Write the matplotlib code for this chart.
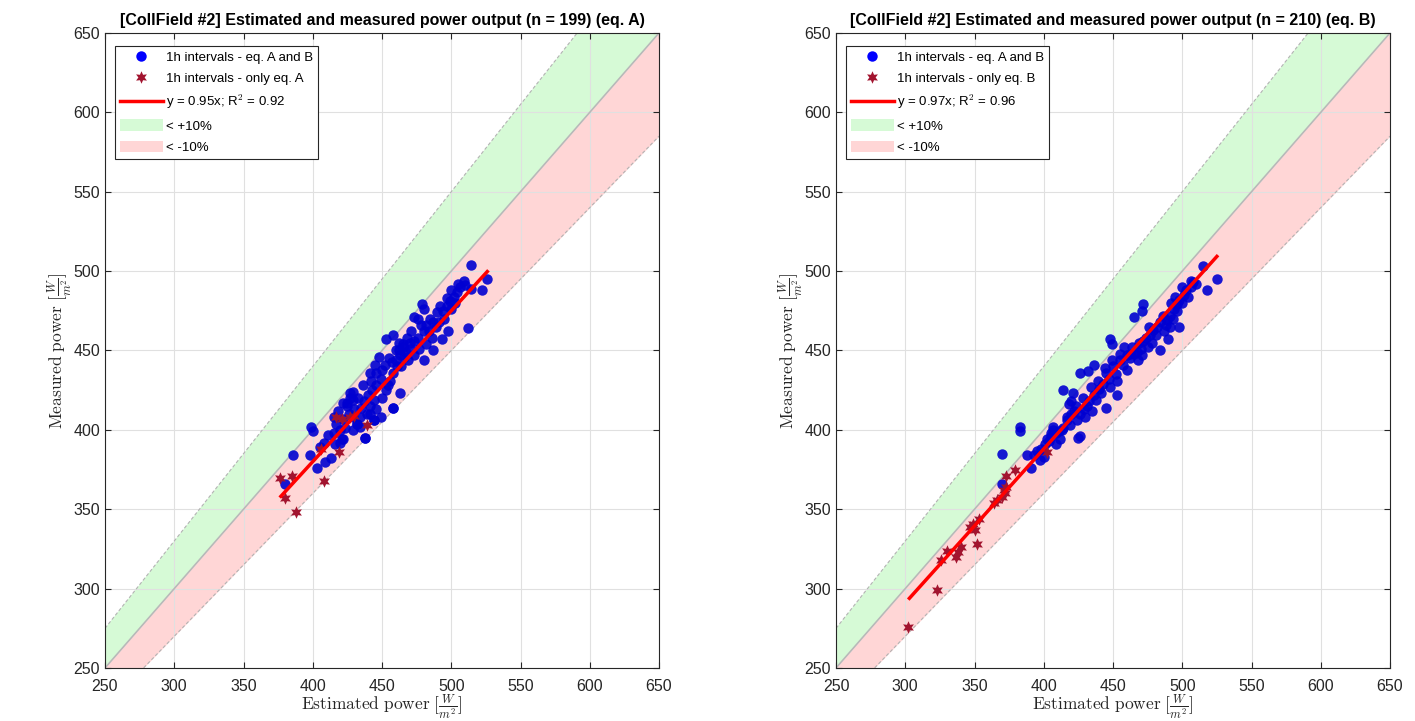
import numpy as np
import matplotlib
matplotlib.use('Agg')
import matplotlib.pyplot as plt
from matplotlib.patches import Patch
from matplotlib.lines import Line2D

plt.rcParams['font.family'] = ['Liberation Sans', 'DejaVu Sans']
plt.rcParams['mathtext.fontset'] = 'cm'

# --- data ---
# left panel, eq. A: blue = valid for eq. A and B, stars = only eq. A
est_A_both = [514, 526, 522, 512, 509, 506, 504, 502, 499, 497, 494, 514, 498, 493, 487, 479, 480, 473,
              485, 487, 482, 480, 476, 473, 470, 467, 463, 458, 462,
              505, 510, 500, 503, 497, 492, 490, 495, 489, 484, 478, 476, 471, 468, 465, 460, 491, 500,
              486, 482, 477, 473, 469,
              453, 445, 441, 446, 450, 462, 465, 470, 480, 463, 458, 429, 427, 425, 444, 441, 439, 434,
              432, 429, 453, 456, 458, 461, 446, 449, 444, 438, 421, 416, 423, 420,
              455, 452, 449, 446, 443, 440, 437, 435, 450, 454, 457, 448, 460, 464, 466, 436, 433, 430,
              426, 422, 442,
              399, 400, 386, 380, 398, 403, 409, 413, 415, 420, 422, 427, 429, 422, 425, 438, 458, 441,
              444, 432, 434, 429, 415, 417, 411, 408, 405, 418]
meas_A_both = [504, 495, 488, 464, 494, 490, 487, 484, 481, 478, 475, 489, 462, 457, 450, 479, 476, 471,
               470, 468, 466, 462, 458, 456, 451, 449, 447, 460, 455,
               492, 491, 488, 480, 483, 478, 474, 470, 465, 462, 466, 470, 462, 458, 454, 450, 468, 476,
               458, 454, 451, 447, 444,
               457, 441, 436, 436, 438, 450, 452, 455, 444, 423, 414, 424, 420, 417, 419, 415, 410, 408,
               404, 400, 425, 431, 436, 440, 413, 408, 406, 395, 394, 391, 401, 400,
               445, 441, 432, 428, 425, 422, 418, 414, 420, 428, 443, 446, 444, 440, 446, 428, 420, 413,
               410, 407, 431,
               402, 399, 384, 366, 384, 376, 380, 382, 398, 392, 394, 423, 419, 417, 415, 395, 414, 410,
               406, 404, 402, 408, 408, 404, 397, 392, 389, 412]
est_A_only = [376, 385, 380, 388, 408, 406, 419, 417, 421, 427, 439, 430]
meas_A_only = [370, 371, 357, 348, 368, 388, 386, 408, 407, 408, 403, 409]

# right panel, eq. B: blue = valid for eq. A and B, stars = only eq. B
est_B_both = [515, 525, 518, 508, 506, 503, 501, 498, 496, 494, 491, 489, 472, 471, 465, 498, 490, 484,
              486, 484, 482, 479, 477, 474, 472, 470, 467, 465, 460, 487, 491,
              510, 504, 500, 496, 493, 488, 481, 478, 475, 471, 468, 462, 500, 506, 495, 492, 476, 469,
              448, 449, 436, 432, 426, 414, 421, 420, 418, 445, 450, 455, 462, 460, 453, 448, 441, 438,
              431, 426, 424, 419, 414, 409, 405, 402, 445, 453, 426, 435, 430, 411, 413,
              457, 452, 447, 443, 440, 436, 433, 429, 428, 444, 458, 455, 464, 449, 439, 434, 422, 417, 407,
              383, 383, 370, 370, 388, 391, 395, 397, 400, 405, 407, 412, 409, 420, 423, 417, 425, 401,
              398, 393, 404]
meas_B_both = [503, 495, 488, 493, 490, 488, 485, 482, 479, 476, 472, 469, 479, 475, 471, 465, 457, 450,
               472, 468, 465, 463, 460, 458, 456, 451, 449, 448, 447, 462, 465,
               492, 484, 480, 475, 470, 466, 460, 455, 452, 447, 444, 445, 490, 494, 484, 480, 465, 455,
               457, 454, 441, 437, 436, 425, 423, 418, 416, 436, 440, 444, 448, 438, 431, 427, 423, 419,
               415, 410, 406, 403, 401, 398, 396, 394, 414, 422, 396, 412, 408, 399, 400,
               441, 435, 432, 429, 426, 422, 418, 413, 420, 439, 452, 448, 452, 444, 431, 427, 412, 408, 402,
               402, 399, 385, 366, 384, 376, 387, 381, 383, 398, 400, 394, 391, 410, 415, 406, 395, 391,
               388, 384, 393]
est_B_only = [302, 323, 326, 330, 337, 338, 340, 352, 347, 349, 353, 350, 364, 366, 370, 372, 373, 371,
              373, 379, 402]
meas_B_only = [276, 299, 318, 324, 320, 323, 326, 328, 339, 341, 344, 337, 354, 356, 358, 360, 364, 362,
               371, 375, 386]

panels = [
    dict(est=est_A_both, meas=meas_A_both, est_o=est_A_only, meas_o=meas_A_only,
         slope=0.95, r2=0.92, n=199, eq='A', xfit=(377, 526)),
    dict(est=est_B_both, meas=meas_B_both, est_o=est_B_only, meas_o=meas_B_only,
         slope=0.97, r2=0.96, n=210, eq='B', xfit=(303, 525)),
]

lim = (250, 650)
dark = (0.15, 0.15, 0.15)
blue = (0.0, 0.0, 0.82)
star_red = '#a2142f'
green_fill = '#d6fad6'
red_fill = '#ffd6d6'
star = (6, 1, 0)

fig = plt.figure(figsize=(14.15, 7.21), dpi=100)
lefts = [105 / 1415, 836 / 1415]

for left, p in zip(lefts, panels):
    ax = fig.add_axes([left, 53 / 721, 554 / 1415, 635 / 721])
    xs = np.array(lim, dtype=float)
    # +/-10% bands
    ax.fill_between(xs, xs, 1.1 * xs, color=green_fill, lw=0, zorder=0)
    ax.fill_between(xs, 0.9 * xs, xs, color=red_fill, lw=0, zorder=0)
    ax.plot(xs, xs, color=(0.72, 0.72, 0.72), lw=1.2, zorder=1)
    ax.plot(xs, 1.1 * xs, color=(0.7, 0.7, 0.7), lw=0.8, ls='--', dashes=(3, 2), zorder=1)
    ax.plot(xs, 0.9 * xs, color=(0.7, 0.7, 0.7), lw=0.8, ls='--', dashes=(3, 2), zorder=1)

    ax.plot(p['est'], p['meas'], 'o', ms=7.5, color=blue, alpha=0.9, mec='none', zorder=3)
    ax.plot(p['est_o'], p['meas_o'], ls='none', marker=star, ms=9, color=star_red, mec='none', zorder=3)
    xf = np.array(p['xfit'], dtype=float)
    ax.plot(xf, p['slope'] * xf, color='red', lw=2.5, zorder=4)

    ax.set_xlim(lim)
    ax.set_ylim(lim)
    ax.set_xticks(np.arange(250, 651, 50))
    ax.set_yticks(np.arange(250, 651, 50))
    ax.grid(True, color=(0.88, 0.88, 0.88), lw=0.8)
    ax.set_axisbelow(True)
    ax.tick_params(direction='in', length=4, width=0.8, colors=dark, labelsize=11.5,
                   top=True, right=True, labelcolor=dark)
    ax.tick_params(axis='x', pad=8)
    for s in ax.spines.values():
        s.set_color(dark)
        s.set_linewidth(0.8)

    ax.set_title('[CollField #2] Estimated and measured power output (n = %d) (eq. %s)' % (p['n'], p['eq']),
                 fontsize=11.5, fontweight='bold', pad=6)
    ax.set_xlabel(r'$\mathrm{Estimated\ power}\ [\frac{W}{m^2}]$', fontsize=12.5, color=dark, labelpad=-1.5)
    ax.set_ylabel(r'$\mathrm{Measured\ power}\ [\frac{W}{m^2}]$', fontsize=12.5, color=dark, labelpad=-1)

    handles = [
        Line2D([], [], ls='none', marker='o', ms=7.5, color='blue', mec='none'),
        Line2D([], [], ls='none', marker=star, ms=9, color=star_red, mec='none'),
        Line2D([], [], color='red', lw=2.5),
        Patch(facecolor=green_fill, edgecolor='none'),
        Patch(facecolor=red_fill, edgecolor='none'),
    ]
    labels = ['1h intervals - eq. A and B',
              '1h intervals - only eq. %s' % p['eq'],
              r'y = %.2fx; R$^2$ = %.2f' % (p['slope'], p['r2']),
              '< +10%', '< -10%']
    leg = ax.legend(handles, labels, loc='upper left', fontsize=9.5, frameon=True, fancybox=False,
                    framealpha=1, edgecolor=dark, handlelength=3.3, handleheight=1.0,
                    labelspacing=0.6, borderpad=0.35, handletextpad=0.2, borderaxespad=0,
                    bbox_to_anchor=(0.018, 0.98))
    leg.get_frame().set_linewidth(0.8)

fig.savefig('out.png', dpi=100)
